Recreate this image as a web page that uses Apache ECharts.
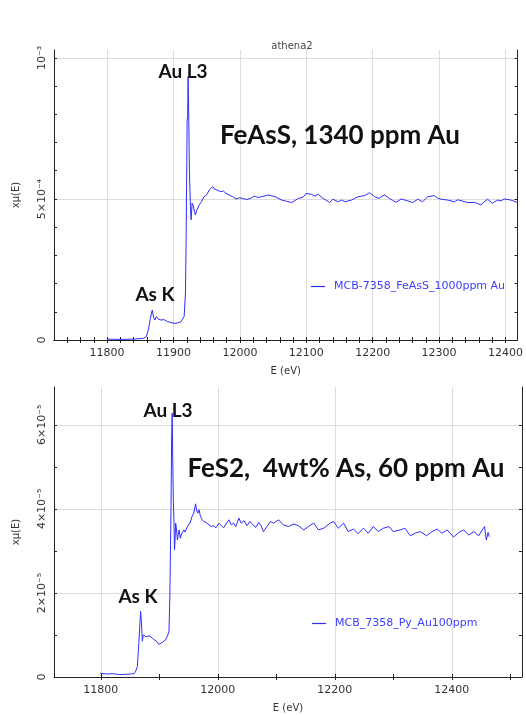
<!DOCTYPE html>
<html>
<head>
<meta charset="utf-8">
<script src="https://cdn.jsdelivr.net/npm/echarts@6/dist/echarts.min.js"></script>
<style>
  html, body { margin: 0; padding: 0; background: #fff; }
  #chart { width: 526px; height: 715px; }
</style>
</head>
<body>
<div id="chart"></div>
<script>
  // top panel: FeAsS, energy (eV) and xmu(E)
  var topE = [11800, 11820, 11840, 11855, 11859, 11862, 11865, 11868, 11870, 11872, 11874, 11877, 11881, 11886,
    11891, 11896, 11901, 11906, 11911, 11914, 11916, 11918, 11919, 11920.5, 11921.3, 11922, 11923, 11924, 11925.5,
    11926.5, 11928, 11930, 11931.5, 11933, 11935, 11937, 11939, 11942, 11946, 11950, 11954, 11957, 11959, 11961,
    11964, 11967, 11971, 11975, 11979, 11984, 11989, 11994, 11999, 12004, 12010, 12016, 12022, 12027,
    12033, 12043, 12053, 12063, 12070, 12078, 12088, 12095, 12100, 12108, 12113, 12118, 12125, 12131, 12135, 12140, 12148, 12153, 12158, 12168,
    12173, 12178, 12188, 12195, 12203, 12210, 12214, 12218, 12225, 12230, 12235, 12243, 12253, 12260, 12268, 12275, 12283, 12293,
    12298, 12303, 12313, 12323, 12328, 12333, 12343, 12353, 12358, 12363, 12368, 12373, 12380, 12388, 12393, 12398, 12408, 12413, 12418];
  var topMu = [3e-6, 2e-6, 3e-6, 6e-6, 1.2e-5, 3.5e-5, 7.5e-5, 1.06e-4, 8.0e-5, 7.1e-5, 8.3e-5, 7.4e-5, 7.1e-5, 7.2e-5,
    6.5e-5, 6.2e-5, 5.9e-5, 6.0e-5, 6.5e-5, 7.0e-5, 8.3e-5, 1.67e-4, 3.55e-4, 7.8e-4, 7.9e-4, 9.34e-4, 7.8e-4, 5.9e-4, 4.73e-4,
    4.26e-4, 4.85e-4, 4.75e-4, 4.55e-4, 4.43e-4, 4.6e-4, 4.55e-4, 4.8e-4, 4.9e-4, 5.08e-4, 5.15e-4, 5.32e-4, 5.3e-4, 5.44e-4, 5.36e-4,
    5.4e-4, 5.3e-4, 5.26e-4, 5.28e-4, 5.2e-4, 5.14e-4, 5.08e-4, 5.0e-4, 5.04e-4, 5.02e-4, 4.98e-4, 5.02e-4, 5.1e-4, 5.05e-4,
    5.08e-4, 5.14e-4, 5.08e-4, 4.96e-4, 4.92e-4, 4.87e-4, 5.02e-4, 5.06e-4, 5.2e-4, 5.16e-4, 5.1e-4, 5.17e-4, 5.02e-4, 4.94e-4, 4.87e-4, 4.99e-4, 4.9e-4, 4.96e-4, 4.9e-4, 4.96e-4,
    5.02e-4, 5.08e-4, 5.12e-4, 5.22e-4, 5.08e-4, 5.02e-4, 5.1e-4, 5.14e-4, 5.02e-4, 4.95e-4, 4.88e-4, 5.0e-4, 4.93e-4, 4.87e-4, 4.99e-4, 4.9e-4, 5.08e-4, 5.12e-4,
    5.03e-4, 4.99e-4, 4.96e-4, 4.9e-4, 4.97e-4, 4.94e-4, 4.87e-4, 4.88e-4, 4.84e-4, 4.79e-4, 4.9e-4, 4.99e-4, 4.85e-4, 4.96e-4, 4.93e-4, 5.0e-4, 4.96e-4, 4.92e-4, 4.87e-4];

  // bottom panel: FeS2
  var botE = [11799, 11810, 11820, 11830, 11840, 11850, 11857, 11860, 11862.5, 11865, 11867, 11868, 11869.5, 11871, 11872.5,
    11874, 11877, 11880, 11884, 11888, 11892, 11896, 11899, 11902, 11905, 11908, 11911, 11914, 11916.5, 11918, 11920,
    11921, 11922, 11923, 11924, 11925, 11926, 11927, 11928, 11929.5, 11931, 11932.5, 11934, 11936, 11938, 11940, 11942,
    11944, 11947, 11950, 11953, 11956, 11959, 11962, 11964, 11966, 11968, 11970, 11973, 11976, 11980, 11985, 11989,
    11993, 11997, 12002, 12006, 12010, 12014, 12019, 12023, 12027, 12031, 12036, 12040, 12045, 12050, 12055, 12060,
    12065, 12070, 12074, 12078, 12084, 12090, 12095, 12104, 12112, 12121, 12130, 12138, 12147, 12155, 12164, 12172,
    12181, 12192, 12198, 12206, 12215, 12223, 12232, 12240, 12249, 12257, 12266, 12274, 12283, 12293, 12300, 12312,
    12320, 12329, 12337, 12346, 12357, 12366, 12375, 12383, 12392, 12403, 12412, 12420, 12429, 12438, 12446, 12452,
    12456, 12459, 12462, 12464];
  var botMu = [9e-7, 7e-7, 8e-7, 6e-7, 6e-7, 7e-7, 8e-7, 1.5e-6, 2.5e-6, 8.0e-6, 1.3e-5, 1.56e-5, 1.3e-5, 8.5e-6, 1.0e-5,
    1.04e-5, 9.6e-6, 1.0e-5, 9.8e-6, 9.2e-6, 8.8e-6, 8.4e-6, 7.8e-6, 7.4e-6, 8.2e-6, 8.0e-6, 8.9e-6, 9.8e-6, 1.08e-5, 1.91e-5, 3.98e-5,
    5.57e-5, 6.28e-5, 5.17e-5, 4.2e-5, 3.74e-5, 3.02e-5, 3.3e-5, 3.66e-5, 3.5e-5, 3.26e-5, 3.4e-5, 3.5e-5, 3.3e-5, 3.4e-5, 3.38e-5, 3.5e-5,
    3.45e-5, 3.55e-5, 3.62e-5, 3.68e-5, 3.82e-5, 3.9e-5, 4.12e-5, 3.95e-5, 3.9e-5, 3.98e-5, 3.84e-5, 3.75e-5, 3.7e-5, 3.68e-5, 3.62e-5, 3.58e-5,
    3.6e-5, 3.55e-5, 3.66e-5, 3.6e-5, 3.55e-5, 3.64e-5, 3.74e-5, 3.62e-5, 3.66e-5, 3.58e-5, 3.78e-5, 3.66e-5, 3.72e-5, 3.6e-5, 3.7e-5, 3.62e-5,
    3.56e-5, 3.68e-5, 3.6e-5, 3.46e-5, 3.58e-5, 3.7e-5, 3.66e-5, 3.74e-5, 3.62e-5, 3.58e-5, 3.64e-5, 3.6e-5, 3.5e-5, 3.58e-5, 3.66e-5, 3.5e-5,
    3.54e-5, 3.66e-5, 3.7e-5, 3.54e-5, 3.66e-5, 3.46e-5, 3.52e-5, 3.41e-5, 3.54e-5, 3.42e-5, 3.58e-5, 3.46e-5, 3.54e-5, 3.58e-5, 3.46e-5, 3.5e-5,
    3.54e-5, 3.36e-5, 3.42e-5, 3.46e-5, 3.36e-5, 3.46e-5, 3.52e-5, 3.42e-5, 3.5e-5, 3.33e-5, 3.44e-5, 3.5e-5, 3.38e-5, 3.46e-5, 3.36e-5, 3.5e-5,
    3.58e-5, 3.26e-5, 3.44e-5, 3.34e-5];

  // ticks
  var topXMajor = [11800, 11900, 12000, 12100, 12200, 12300, 12400];
  var topXMinor = [11740, 11760, 11780, 11800, 11820, 11840, 11860, 11880, 11900, 11920, 11940, 11960, 11980, 12000,
    12020, 12040, 12060, 12080, 12100, 12120, 12140, 12160, 12180, 12200, 12220, 12240, 12260, 12280, 12300, 12320,
    12340, 12360, 12380, 12400];
  var topYMajor = [0, 5e-4, 1e-3];
  var topYLabels = ['0', '5×10⁻⁴', '10⁻³'];
  var topYMinor = [1e-4, 2e-4, 3e-4, 4e-4, 5e-4, 6e-4, 7e-4, 8e-4, 9e-4, 1e-3];
  var botXMajor = [11800, 12000, 12200, 12400];
  var botXMinor = [11800, 11900, 12000, 12100, 12200, 12300, 12400, 12500];
  var botYMajor = [0, 2e-5, 4e-5, 6e-5];
  var botYLabels = ['0', '2×10⁻⁵', '4×10⁻⁵', '6×10⁻⁵'];
  var botYMinor = [1e-5, 2e-5, 3e-5, 4e-5, 5e-5, 6e-5];

  var topName = 'MCB-7358_FeAsS_1000ppm Au';
  var botName = 'MCB_7358_Py_Au100ppm';

  var AXIS_COLOR = '#222';
  var GRID_COLOR = '#dcdcdc';
  var LINE_COLOR = '#2d2dff';
  var LABEL_FONT = { color: '#333', fontSize: 11, fontFamily: 'DejaVu Sans' };

  function pairs(xs, ys) {
    return xs.map(function (x, i) { return [x, ys[i]]; });
  }

  // one main axis (labels + grid lines) and minor tick axes on the frame
  function xAxes(grid, min, max, major, minor, showTopLine) {
    return [
      {
        type: 'value', gridIndex: grid, position: 'bottom', min: min, max: max,
        name: 'E (eV)', nameLocation: 'middle', nameGap: 26,
        nameTextStyle: { color: '#333', fontSize: 10, fontFamily: 'DejaVu Sans' },
        axisLine: { lineStyle: { color: AXIS_COLOR } },
        axisTick: { show: false, customValues: major },
        axisLabel: Object.assign({
          customValues: major, margin: 8,
          formatter: function (v) { return String(Math.round(v)); }
        }, LABEL_FONT),
        splitLine: { show: true, lineStyle: { color: GRID_COLOR, width: 1 } }
      },
      {
        type: 'value', gridIndex: grid, position: 'bottom', min: min, max: max,
        axisLine: { show: false },
        axisTick: { inside: true, length: 3, customValues: minor, lineStyle: { color: AXIS_COLOR } },
        axisLabel: { show: false }, splitLine: { show: false }
      },
      {
        type: 'value', gridIndex: grid, position: 'top', min: min, max: max,
        axisLine: { show: showTopLine, lineStyle: { color: AXIS_COLOR } },
        axisTick: { inside: true, length: 3, customValues: minor, lineStyle: { color: AXIS_COLOR } },
        axisLabel: { show: false }, splitLine: { show: false }
      }
    ];
  }

  function yAxes(grid, max, major, labels, minor) {
    return [
      {
        type: 'value', gridIndex: grid, position: 'left', min: 0, max: max,
        name: 'xμ(E)', nameLocation: 'middle', nameGap: 33, nameRotate: 90,
        nameTextStyle: { color: '#333', fontSize: 10, fontFamily: 'DejaVu Sans' },
        axisLine: { show: true, lineStyle: { color: AXIS_COLOR } },
        axisTick: { show: false, customValues: major },
        axisLabel: Object.assign({
          customValues: major, rotate: 90, margin: 6,
          formatter: function (v) {
            var i = major.findIndex(function (m) { return Math.abs(m - v) < max * 1e-6; });
            return i >= 0 ? labels[i] : '';
          }
        }, LABEL_FONT),
        splitLine: { show: true, lineStyle: { color: GRID_COLOR, width: 1 } }
      },
      {
        type: 'value', gridIndex: grid, position: 'left', min: 0, max: max,
        axisLine: { show: false },
        axisTick: { inside: true, length: 3, customValues: minor, lineStyle: { color: AXIS_COLOR } },
        axisLabel: { show: false }, splitLine: { show: false }
      },
      {
        type: 'value', gridIndex: grid, position: 'right', min: 0, max: max,
        axisLine: { show: true, lineStyle: { color: AXIS_COLOR } },
        axisTick: { inside: true, length: 3, customValues: minor, lineStyle: { color: AXIS_COLOR } },
        axisLabel: { show: false }, splitLine: { show: false }
      }
    ];
  }

  function note(text, x, y, size) {
    return {
      type: 'text', x: x, y: y, z: 100,
      style: {
        text: text, fill: '#111', align: 'center', verticalAlign: 'middle',
        font: 'bold ' + size + 'px Lato, "Open Sans", sans-serif'
      }
    };
  }

  var chart = echarts.init(document.getElementById('chart'), null, { renderer: 'canvas' });

  var option = {
    backgroundColor: '#fff',
    animation: false,
    title: {
      text: 'athena2', left: 287, top: 36, textAlign: 'center',
      textStyle: { color: '#444', fontSize: 10, fontWeight: 'normal', fontFamily: 'DejaVu Sans' }
    },
    grid: [
      { left: 54, right: 6, top: 50, height: 290 },
      { left: 54, right: 4, top: 387, height: 290 }
    ],
    xAxis: xAxes(0, 11720, 12418, topXMajor, topXMinor, true)
      .concat(xAxes(1, 11720, 12520, botXMajor, botXMinor, false)),
    yAxis: yAxes(0, 1.028e-3, topYMajor, topYLabels, topYMinor)
      .concat(yAxes(1, 6.9e-5, botYMajor, botYLabels, botYMinor)),
    legend: [
      {
        data: [topName], left: 306, top: 276, icon: 'rect', itemWidth: 14, itemHeight: 1.2,
        textStyle: { color: '#3c3cff', fontSize: 11, fontFamily: 'DejaVu Sans', padding: [0, 0, 0, 4] }
      },
      {
        data: [botName], left: 307, top: 613, icon: 'rect', itemWidth: 14, itemHeight: 1.2,
        textStyle: { color: '#3c3cff', fontSize: 11, fontFamily: 'DejaVu Sans', padding: [0, 0, 0, 4] }
      }
    ],
    series: [
      {
        name: topName, type: 'line', xAxisIndex: 0, yAxisIndex: 0,
        showSymbol: false, symbol: 'none',
        lineStyle: { color: LINE_COLOR, width: 1 }, itemStyle: { color: LINE_COLOR },
        data: pairs(topE, topMu)
      },
      {
        name: botName, type: 'line', xAxisIndex: 3, yAxisIndex: 3,
        showSymbol: false, symbol: 'none',
        lineStyle: { color: LINE_COLOR, width: 1 }, itemStyle: { color: LINE_COLOR },
        data: pairs(botE, botMu)
      }
    ],
    graphic: [
      note('Au L3', 183, 72, 19),
      note('As K', 155, 295, 19),
      note('FeAsS, 1340 ppm Au', 340, 136, 26),
      note('Au L3', 168, 411, 19),
      note('As K', 138, 597, 19),
      note('FeS2,  4wt% As, 60 ppm Au', 346, 469, 26)
    ]
  };

  chart.setOption(option);
</script>
</body>
</html>
